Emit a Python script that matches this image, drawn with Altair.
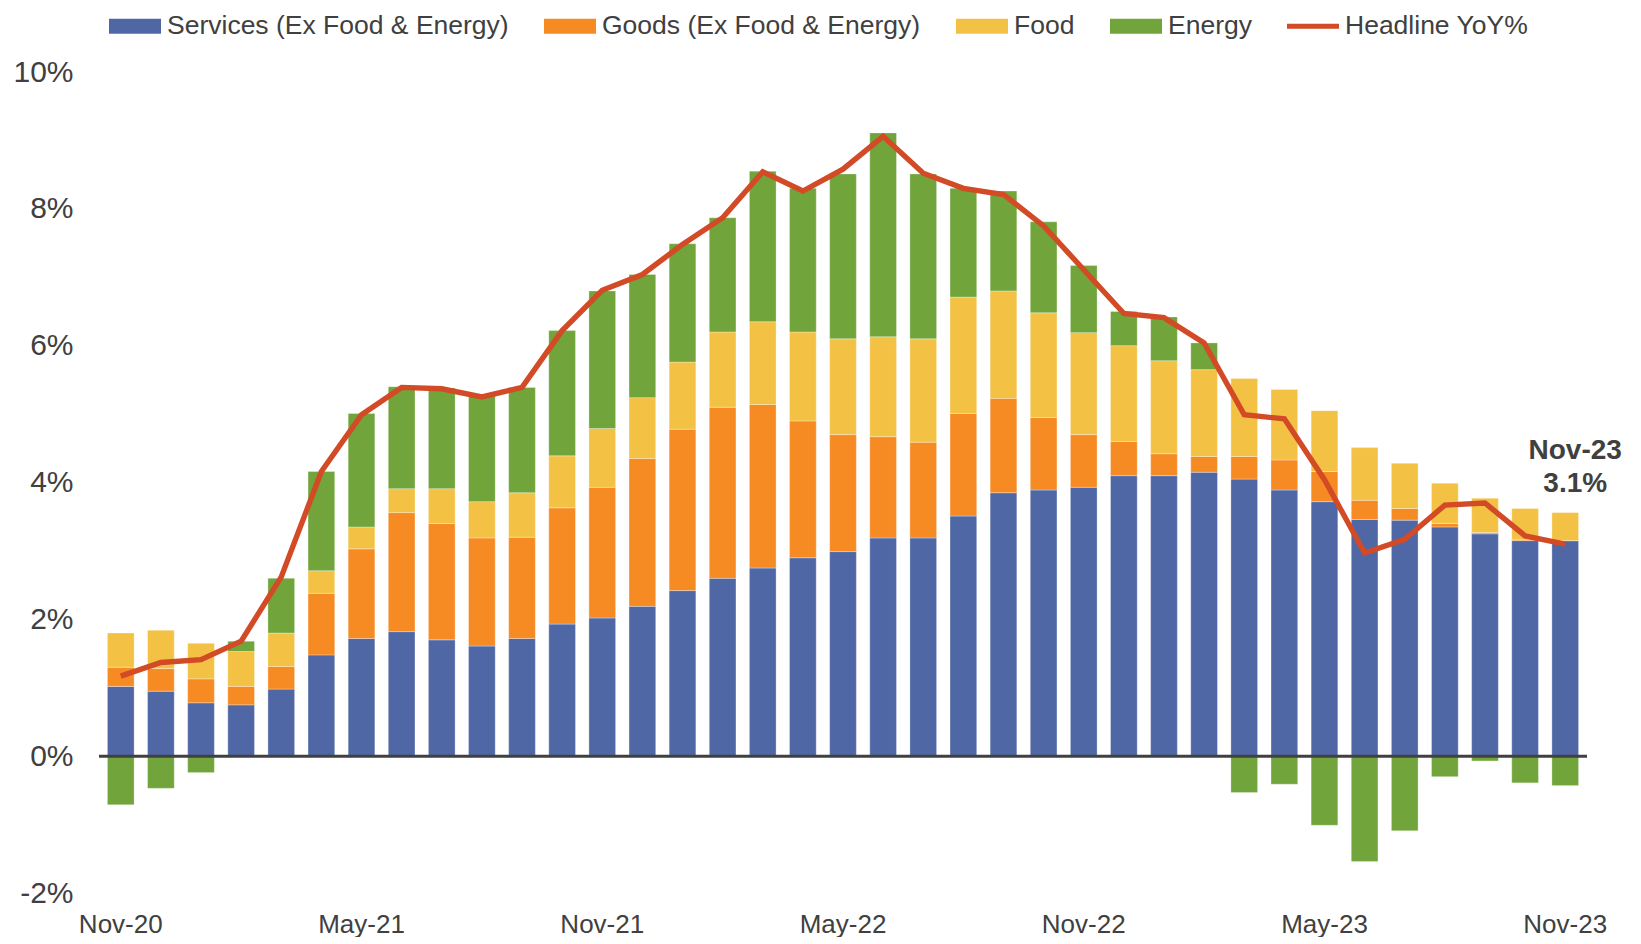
import altair as alt
import pandas as pd

months = ["Nov-20", "Dec-20", "Jan-21", "Feb-21", "Mar-21", "Apr-21", "May-21", "Jun-21",
          "Jul-21", "Aug-21", "Sep-21", "Oct-21", "Nov-21", "Dec-21", "Jan-22", "Feb-22",
          "Mar-22", "Apr-22", "May-22", "Jun-22", "Jul-22", "Aug-22", "Sep-22", "Oct-22",
          "Nov-22", "Dec-22", "Jan-23", "Feb-23", "Mar-23", "Apr-23", "May-23", "Jun-23",
          "Jul-23", "Aug-23", "Sep-23", "Oct-23", "Nov-23"]

services = [1.02, 0.95, 0.78, 0.75, 0.98, 1.48, 1.72, 1.82, 1.70, 1.61, 1.72, 1.93, 2.02,
            2.19, 2.42, 2.60, 2.75, 2.90, 2.99, 3.19, 3.19, 3.51, 3.85, 3.89, 3.93, 4.10,
            4.10, 4.15, 4.05, 3.89, 3.72, 3.46, 3.45, 3.35, 3.25, 3.15, 3.15]
goods = [0.28, 0.33, 0.35, 0.27, 0.33, 0.90, 1.31, 1.74, 1.70, 1.58, 1.48, 1.70, 1.91,
         2.16, 2.36, 2.50, 2.39, 2.00, 1.71, 1.48, 1.40, 1.50, 1.38, 1.06, 0.77, 0.50,
         0.32, 0.23, 0.33, 0.44, 0.44, 0.28, 0.17, 0.05, 0.02, 0.02, 0.00]
food = [0.50, 0.56, 0.52, 0.51, 0.49, 0.33, 0.32, 0.35, 0.51, 0.53, 0.65, 0.76, 0.86,
        0.89, 0.98, 1.10, 1.21, 1.30, 1.40, 1.46, 1.51, 1.70, 1.57, 1.53, 1.49, 1.40,
        1.36, 1.27, 1.14, 1.03, 0.89, 0.77, 0.66, 0.59, 0.50, 0.45, 0.41]
energy = [-0.71, -0.47, -0.24, 0.15, 0.80, 1.45, 1.66, 1.49, 1.47, 1.56, 1.54, 1.83, 2.01,
          1.80, 1.73, 1.67, 2.20, 2.10, 2.41, 2.98, 2.41, 1.59, 1.46, 1.33, 0.98, 0.50,
          0.64, 0.39, -0.53, -0.41, -1.01, -1.54, -1.09, -0.30, -0.07, -0.39, -0.43]
headline = [1.17, 1.37, 1.41, 1.68, 2.62, 4.16, 4.99, 5.39, 5.37, 5.25, 5.39, 6.22, 6.81,
            7.04, 7.48, 7.87, 8.54, 8.26, 8.58, 9.06, 8.52, 8.30, 8.21, 7.75, 7.11, 6.47,
            6.41, 6.04, 4.99, 4.93, 4.04, 2.97, 3.17, 3.67, 3.70, 3.22, 3.10]

series_names = ["Services (Ex Food & Energy)", "Goods (Ex Food & Energy)", "Food", "Energy"]
line_name = "Headline YoY%"
series_colors = ["#4F67A5", "#F68B24", "#F3C244", "#71A43B", "#D24A26"]
x_tick_labels = ["Nov-20", "May-21", "Nov-21", "May-22", "Nov-22", "May-23", "Nov-23"]
y_ticks = [-2, 0, 2, 4, 6, 8, 10]

rows = []
for i, m in enumerate(months):
    for k, (name, vals) in enumerate(zip(series_names, [services, goods, food, energy])):
        rows.append({"month": m, "series": name, "value": vals[i], "order": k})
bars_df = pd.DataFrame(rows)
line_df = pd.DataFrame({"month": months, "headline": headline, "series": line_name})
annot_df = pd.DataFrame({"month": [months[-1]], "headline": [headline[-1]],
                         "label": [f"{months[-1]}\n{headline[-1]:.1f}%"]})

TXT = "#404040"
FONT = "Liberation Sans"

color_scale = alt.Scale(domain=series_names + [line_name], range=series_colors)
x_enc = alt.X("month:N", sort=months,
              scale=alt.Scale(paddingInner=0.335, paddingOuter=0.21),
              axis=alt.Axis(values=x_tick_labels, labelAngle=0, title=None, domain=False,
                            ticks=False, grid=False, labelFontSize=26, labelColor=TXT,
                            labelPadding=18, labelFont=FONT))
y_scale = alt.Scale(domain=[-2, 10], nice=False, zero=False)
y_axis = alt.Axis(values=y_ticks, labelExpr="datum.value + '%'", title=None, domain=False,
                  ticks=False, grid=False, labelFontSize=30, labelColor=TXT,
                  labelPadding=26, labelFont=FONT)

bar_shape = "M-1,-0.29L1,-0.29L1,0.29L-1,0.29Z"
line_shape = "M-1,-0.1L1,-0.1L1,0.1L-1,0.1Z"

legend = alt.Legend(
    orient="none", legendX=10, legendY=-72, direction="horizontal", title=None,
    labelFontSize=26.5, labelColor=TXT, labelFont=FONT, labelLimit=0, symbolSize=2704,
    symbolType={"expr": f"datum.value === '{line_name}' ? '{line_shape}' : '{bar_shape}'"},
    symbolFillColor={"expr": "scale('color', datum.value)"},
    columnPadding=35, labelOffset=6, padding=0,
    symbolStrokeWidth=0, symbolOpacity=1)

bars = alt.Chart(bars_df).mark_bar(stroke="#ffffff", strokeWidth=0.6, strokeOpacity=0.5).encode(
    x=x_enc,
    y=alt.Y("value:Q", stack="zero", scale=y_scale, axis=y_axis),
    color=alt.Color("series:N", scale=color_scale, legend=legend),
    order=alt.Order("order:Q"),
)

zero = alt.Chart(pd.DataFrame({"v": [0]})).mark_rule(color="#404040", strokeWidth=3).encode(
    y=alt.Y("v:Q", scale=y_scale))

line = alt.Chart(line_df).mark_line(strokeWidth=5.4).encode(
    x=alt.X("month:N", sort=months),
    y=alt.Y("headline:Q", scale=y_scale),
    color=alt.Color("series:N", scale=color_scale, legend=legend),
)

annot = alt.Chart(annot_df).mark_text(
    lineBreak="\n", fontSize=28, fontWeight="bold", font=FONT, color=TXT,
    align="center", baseline="middle", lineHeight=33, dx=10, dy=-93).encode(
    x=alt.X("month:N", sort=months),
    y=alt.Y("headline:Q", scale=y_scale),
    text="label:N",
)

chart = alt.layer(bars, zero, line, annot).properties(
    width=1488, height=821,
    autosize=alt.AutoSizeParams(type="none"),
    padding={"left": 91, "top": 64, "right": 46, "bottom": 44},
).configure(font=FONT).configure_view(strokeWidth=0, stroke="transparent")

chart.save("out.html", embed_options={"renderer": "svg", "actions": False})
